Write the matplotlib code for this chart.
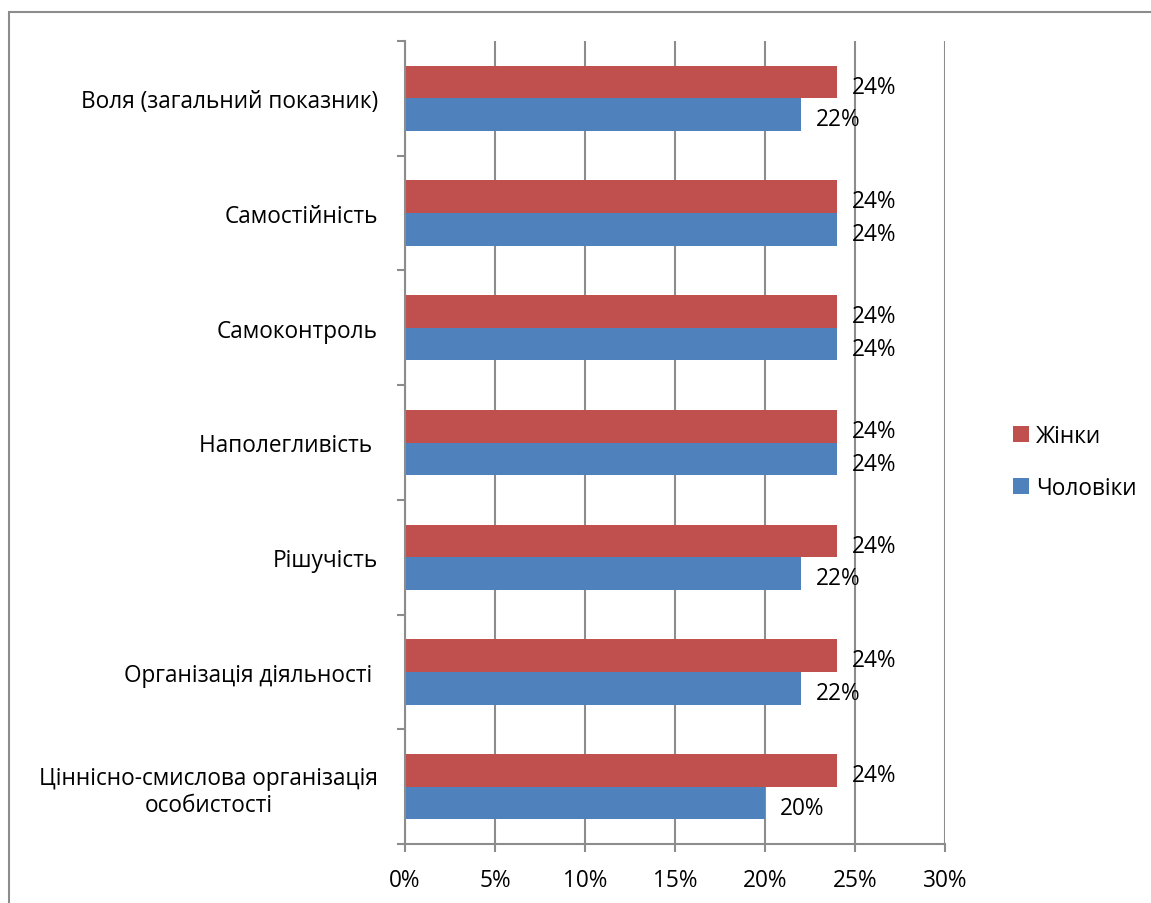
import numpy as np
import matplotlib.pyplot as plt
from matplotlib.patches import Rectangle

plt.rcParams['font.family'] = ['Open Sans', 'DejaVu Sans']

categories = ["Воля (загальний показник)", "Самостійність", "Самоконтроль",
              "Наполегливість ", "Рішучість", "Організація діяльності ",
              "Ціннісно-смислова організація\nособистості"]
women = [24, 24, 24, 24, 24, 24, 24]
men = [22, 24, 24, 24, 22, 22, 20]
xticks = [0, 5, 10, 15, 20, 25, 30]

red = "#c0504d"
blue = "#4f81bd"
grey = "#8c8c8c"
fs = 16.3

fig = plt.figure(figsize=(11.51, 9.04), dpi=100)
# outer chart frame (left and top visible)
fig.patches.append(Rectangle((9 / 1151, -0.05), 1.2, 1 - 13 / 904 + 0.05,
                             transform=fig.transFigure, fill=False,
                             edgecolor=grey, lw=1.5))
ax = fig.add_axes([405 / 1151, 1 - 845 / 904, 540 / 1151, 803 / 904])

n = len(categories)
y = np.arange(n)[::-1]
h = 0.285
ax.barh(y + h / 2, women, height=h, color=red, label="Жінки")
ax.barh(y - h / 2, men, height=h, color=blue, label="Чоловіки")

for yi, w, m in zip(y, women, men):
    ax.text(w + 0.85, yi + h / 2 - 0.015, f"{w}%", va="center_baseline", ha="left", fontsize=fs)
    ax.text(m + 0.85, yi - h / 2 - 0.015, f"{m}%", va="center_baseline", ha="left", fontsize=fs)

ax.set_xlim(0, 30)
ax.set_ylim(-0.5, n - 0.5)
ax.set_xticks(xticks)
ax.set_xticklabels([f"{t}%" for t in xticks], fontsize=fs)
ax.set_yticks(y)
ax.set_yticklabels(categories, fontsize=fs, ha="right", multialignment="center",
                   linespacing=1.2)
ax.tick_params(axis="y", length=0, pad=19.5)
ax.set_yticks(np.arange(n + 1) - 0.5, minor=True)
ax.tick_params(axis="y", which="minor", length=6, color=grey, width=1.5)
ax.tick_params(axis="x", length=6, color=grey, width=1.5, pad=11)
ax.grid(axis="x", color=grey, lw=1.5)
ax.set_axisbelow(True)
for s in ["top", "right"]:
    ax.spines[s].set_visible(False)
for s in ["left", "bottom"]:
    ax.spines[s].set_color(grey)
    ax.spines[s].set_linewidth(1.5)

handles, labels = ax.get_legend_handles_labels()
fig.legend(handles, labels, loc="center left", bbox_to_anchor=(993 / 1151, 1 - 463 / 904),
           frameon=False, fontsize=fs, handlelength=0.7, handleheight=0.7,
           handletextpad=0.3, labelspacing=1.25)

fig.savefig("out.png", dpi=100)
